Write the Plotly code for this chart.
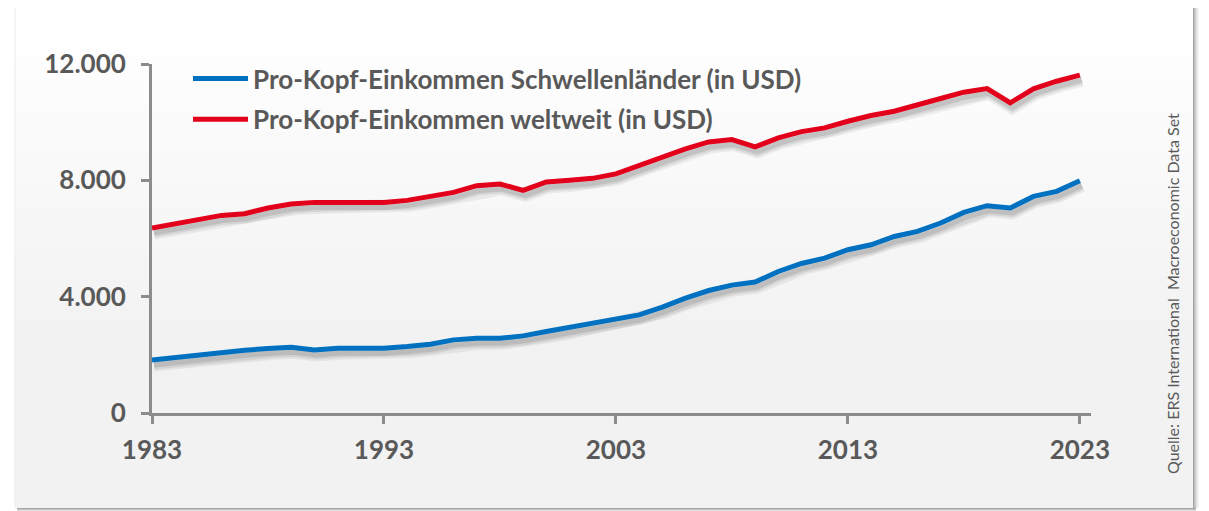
import plotly.graph_objects as go

# Daten
jahre = list(range(1983, 2024))

schwellenlaender = [
    1825, 1918, 1997, 2076, 2159, 2214, 2262, 2169, 2228, 2228,
    2228, 2283, 2366, 2514, 2572, 2572, 2652, 2800, 2937, 3089,
    3237, 3375, 3640, 3950, 4211, 4397, 4501, 4866, 5141, 5327,
    5613, 5785, 6071, 6243, 6532, 6897, 7128, 7049, 7448, 7621,
    7989,
]

weltweit = [
    6360, 6508, 6670, 6794, 6853, 7049, 7187, 7242, 7242, 7242,
    7242, 7311, 7438, 7586, 7817, 7875, 7655, 7944, 7999, 8068,
    8223, 8523, 8826, 9081, 9322, 9401, 9149, 9459, 9676, 9804,
    10031, 10227, 10375, 10572, 10813, 11030, 11157, 10665, 11147, 11408,
    11615,
]

serien_namen = [
    "Pro-Kopf-Einkommen Schwellenländer (in USD)",
    "Pro-Kopf-Einkommen weltweit (in USD)",
]
farben = ["#0070c0", "#e3001b"]

x_ticks = [1983, 1993, 2003, 2013, 2023]
y_ticks = [0, 4000, 8000, 12000]

quelle = "Quelle: ERS International\u00a0 Macroeconomic Data Set"

# Layout-Geometrie: Seite hat 8px Body-Rand
OFF = 8
W, H = 1209 - OFF, 511 - OFF
ML, MR, MT, MB = 144, 118, 56, 98
PW = W - ML - MR
PH = H - MT - MB
X_RANGE = [1983, 2023.48]
Y_RANGE = [0, 12000]

grau_text = "#595959"
grau_achse = "#8c8c8c"
schrift = "Lato, 'Open Sans', sans-serif"


# Bildschirm-Pixel -> Paper-Koordinaten
def xp(px):
    return (px - OFF - ML) / PW


def yp(py):
    return (H - MB - (py - OFF)) / PH


# Schatten-Versatz in Pixel -> verschobene Achsenbereiche
x_per_px = (X_RANGE[1] - X_RANGE[0]) / PW
y_per_px = (Y_RANGE[1] - Y_RANGE[0]) / PH


def versatz(dx, dy):
    return ([X_RANGE[0] - dx * x_per_px, X_RANGE[1] - dx * x_per_px],
            [Y_RANGE[0] + dy * y_per_px, Y_RANGE[1] + dy * y_per_px])


xr_s, yr_s = versatz(2, 5)

fig = go.Figure()

# weicher Schatten unter den Linien
for breite, alpha in [(13, 0.06), (9, 0.08), (5, 0.10)]:
    for werte in [schwellenlaender, weltweit]:
        fig.add_trace(go.Scatter(
            x=jahre, y=werte, mode="lines",
            line=dict(color=f"rgba(0,0,0,{alpha})", width=breite),
            showlegend=False, hoverinfo="skip",
            xaxis="x", yaxis="y",
        ))

# Hauptlinien
for i, (name, werte) in enumerate(zip(serien_namen, [schwellenlaender, weltweit])):
    fig.add_trace(go.Scatter(
        x=jahre, y=werte, mode="lines", name=name,
        line=dict(color=farben[i], width=5),
        legendgroup=f"g{i}",
        xaxis="x2", yaxis="y2",
    ))

# Hintergrund: Rahmen mit Verlauf und Schatten
shapes = []
for k, c in enumerate(["#a6a6a6", "#bdbdbd", "#d0d0d0", "#e0e0e0", "#ececec", "#f6f6f6"]):
    shapes.append(dict(type="rect", xref="paper", yref="paper", layer="below",
                       x0=xp(1193 + k), x1=xp(1194 + k), y0=yp(508), y1=yp(4),
                       fillcolor=c, line=dict(width=0)))
for k, c in enumerate(["#a6a6a6", "#c4c4c4", "#e0e0e0"]):
    shapes.append(dict(type="rect", xref="paper", yref="paper", layer="below",
                       x0=xp(17), x1=xp(1196), y0=yp(508 + k), y1=yp(509 + k),
                       fillcolor=c, line=dict(width=0)))
n = 40
y_start, y_end = 20, 340
for k in range(n):
    t = k / (n - 1)
    g = round(255 - (255 - 242) * t)
    y0 = y_start + (y_end - y_start) * k / n
    y1 = y_start + (y_end - y_start) * (k + 1) / n
    if k == 0:
        y0 = 0
    if k == n - 1:
        y1 = 508
    shapes.append(dict(type="rect", xref="paper", yref="paper", layer="below",
                       x0=xp(15), x1=xp(1193), y0=yp(y1), y1=yp(y0),
                       fillcolor=f"rgb({g},{g},{g})", line=dict(width=0)))
shapes.append(dict(type="line", xref="paper", yref="paper", layer="below",
                   x0=xp(15), x1=xp(15), y0=yp(508), y1=yp(0),
                   line=dict(color="#ececec", width=1)))

achse = dict(
    showline=True, linecolor=grau_achse, linewidth=3,
    ticks="outside", ticklen=8, tickwidth=3, tickcolor=grau_achse,
    showgrid=False, zeroline=False,
    tickfont=dict(family=schrift, size=26, color=grau_text, weight="bold"),
)

fig.update_layout(
    width=W, height=H,
    margin=dict(l=ML, r=MR, t=MT, b=MB, pad=0, autoexpand=False),
    paper_bgcolor="white",
    plot_bgcolor="rgba(0,0,0,0)",
    separators=",.",
    shapes=shapes,
    xaxis=dict(range=xr_s, visible=False, fixedrange=True),
    yaxis=dict(range=yr_s, visible=False, fixedrange=True),
    xaxis2=dict(range=X_RANGE, overlaying="x", anchor="y2",
                tickvals=x_ticks, ticklabelstandoff=4, **achse),
    yaxis2=dict(range=Y_RANGE, overlaying="y", anchor="x2",
                tickvals=y_ticks, tickformat=",d", ticklabelstandoff=10, **achse),
    legend=dict(
        xref="paper", yref="paper",
        x=xp(188), y=yp(55), xanchor="left", yanchor="top",
        bgcolor="rgba(0,0,0,0)", borderwidth=0,
        font=dict(family=schrift, size=26, color=grau_text, weight="bold"),
        itemwidth=55, tracegroupgap=4,
    ),
    annotations=[dict(
        text=quelle, xref="paper", yref="paper",
        x=xp(1172), y=yp(294), textangle=-90,
        showarrow=False, xanchor="center", yanchor="middle",
        font=dict(family=schrift, size=16, color=grau_text),
    )],
)

fig.write_html("out.html")
